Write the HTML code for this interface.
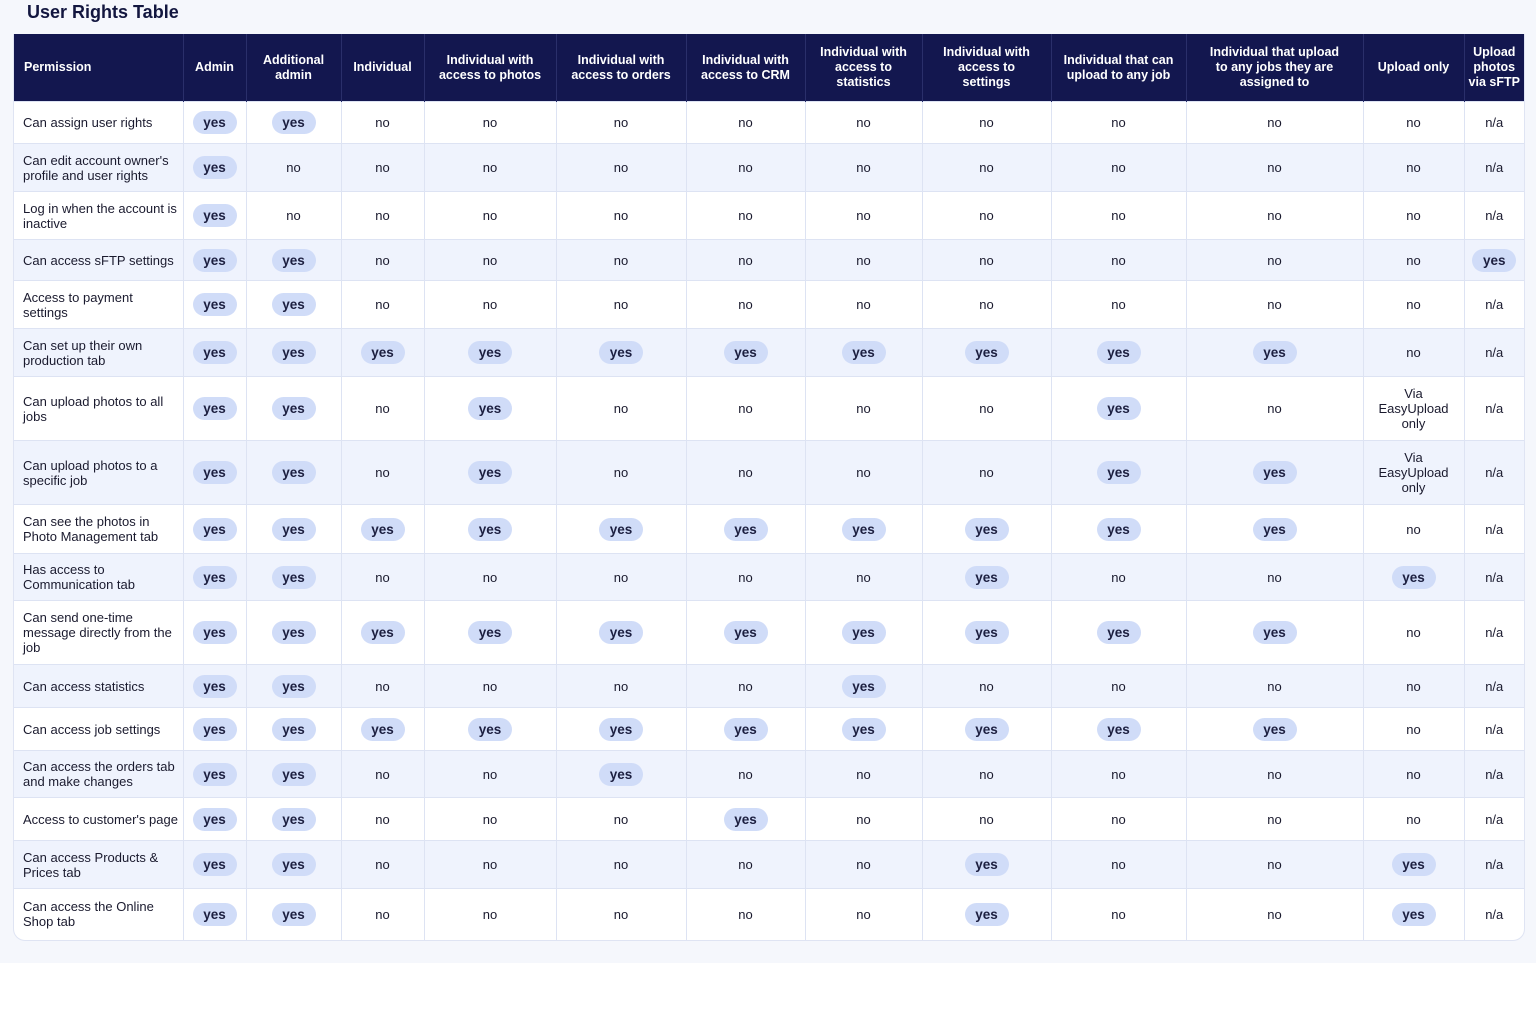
<!DOCTYPE html>
<html><head><meta charset="utf-8"><style>
html,body{margin:0;padding:0;width:1536px;height:1024px;background:#fff;overflow:hidden}
.bg{position:absolute;left:0;top:0;width:1536px;height:963px;background:#f5f7fc}
h1{position:absolute;left:27px;top:2px;margin:0;font:bold 18px "Liberation Sans",sans-serif;color:#12163f}
.wrap{position:absolute;left:13px;top:34px;width:1510px;border-radius:0 0 12px 12px;overflow:hidden;border:1px solid #dfe4f3;border-top:none;background:#fff}
table{border-collapse:collapse;table-layout:fixed;width:1510px;font:13px "Liberation Sans",sans-serif;color:#1a1a2e}
th{background:#13174f;color:#fff;font-weight:bold;font-size:12.5px;line-height:15px;height:67px;padding:0 10px;border-left:1px solid #2a2f6a}
th:first-child{text-align:left;padding-left:10px;border-left:none}
th:last-child{padding:0 2px}
td{text-align:center;border-left:1px solid #dde3f3;border-top:1px solid #dde3f3;padding:0 3px;line-height:15px}
td:first-child{text-align:left;padding-left:9px;border-left:none}
td.v{padding:0 14px}
tr:nth-child(even) td{background:#eff3fd}
b{display:inline-block;background:#d0dcf8;border-radius:12px;width:44px;height:23px;line-height:23px;font-weight:bold;font-size:13.5px;color:#1c1f40}
</style></head><body>
<div class="bg"></div>
<h1>User Rights Table</h1>
<div class="wrap"><table>
<colgroup><col style="width:169px"><col style="width:63px"><col style="width:95px"><col style="width:83px"><col style="width:132px"><col style="width:130px"><col style="width:119px"><col style="width:117px"><col style="width:129px"><col style="width:135px"><col style="width:177px"><col style="width:101px"><col style="width:60px"></colgroup>
<thead><tr><th>Permission</th><th>Admin</th><th>Additional admin</th><th>Individual</th><th>Individual with access to photos</th><th>Individual with access to orders</th><th>Individual with access to CRM</th><th>Individual with access to statistics</th><th>Individual with access to settings</th><th>Individual that can upload to any job</th><th style="padding:0 18px">Individual that upload to any jobs they are assigned to</th><th>Upload only</th><th>Upload photos via sFTP</th></tr></thead>
<tbody>
<tr style="height:42px"><td>Can assign user rights</td><td><b>yes</b></td><td><b>yes</b></td><td>no</td><td>no</td><td>no</td><td>no</td><td>no</td><td>no</td><td>no</td><td>no</td><td>no</td><td>n/a</td></tr>
<tr style="height:48px"><td>Can edit account owner's profile and user rights</td><td><b>yes</b></td><td>no</td><td>no</td><td>no</td><td>no</td><td>no</td><td>no</td><td>no</td><td>no</td><td>no</td><td>no</td><td>n/a</td></tr>
<tr style="height:48px"><td>Log in when the account is inactive</td><td><b>yes</b></td><td>no</td><td>no</td><td>no</td><td>no</td><td>no</td><td>no</td><td>no</td><td>no</td><td>no</td><td>no</td><td>n/a</td></tr>
<tr style="height:41px"><td>Can access sFTP settings</td><td><b>yes</b></td><td><b>yes</b></td><td>no</td><td>no</td><td>no</td><td>no</td><td>no</td><td>no</td><td>no</td><td>no</td><td>no</td><td><b>yes</b></td></tr>
<tr style="height:48px"><td>Access to payment settings</td><td><b>yes</b></td><td><b>yes</b></td><td>no</td><td>no</td><td>no</td><td>no</td><td>no</td><td>no</td><td>no</td><td>no</td><td>no</td><td>n/a</td></tr>
<tr style="height:48px"><td>Can set up their own production tab</td><td><b>yes</b></td><td><b>yes</b></td><td><b>yes</b></td><td><b>yes</b></td><td><b>yes</b></td><td><b>yes</b></td><td><b>yes</b></td><td><b>yes</b></td><td><b>yes</b></td><td><b>yes</b></td><td>no</td><td>n/a</td></tr>
<tr style="height:64px"><td>Can upload photos to all jobs</td><td><b>yes</b></td><td><b>yes</b></td><td>no</td><td><b>yes</b></td><td>no</td><td>no</td><td>no</td><td>no</td><td><b>yes</b></td><td>no</td><td class="v">Via EasyUpload only</td><td>n/a</td></tr>
<tr style="height:64px"><td>Can upload photos to a specific job</td><td><b>yes</b></td><td><b>yes</b></td><td>no</td><td><b>yes</b></td><td>no</td><td>no</td><td>no</td><td>no</td><td><b>yes</b></td><td><b>yes</b></td><td class="v">Via EasyUpload only</td><td>n/a</td></tr>
<tr style="height:49px"><td>Can see the photos in Photo Management tab</td><td><b>yes</b></td><td><b>yes</b></td><td><b>yes</b></td><td><b>yes</b></td><td><b>yes</b></td><td><b>yes</b></td><td><b>yes</b></td><td><b>yes</b></td><td><b>yes</b></td><td><b>yes</b></td><td>no</td><td>n/a</td></tr>
<tr style="height:47px"><td>Has access to Communication tab</td><td><b>yes</b></td><td><b>yes</b></td><td>no</td><td>no</td><td>no</td><td>no</td><td>no</td><td><b>yes</b></td><td>no</td><td>no</td><td><b>yes</b></td><td>n/a</td></tr>
<tr style="height:64px"><td>Can send one-time message directly from the job</td><td><b>yes</b></td><td><b>yes</b></td><td><b>yes</b></td><td><b>yes</b></td><td><b>yes</b></td><td><b>yes</b></td><td><b>yes</b></td><td><b>yes</b></td><td><b>yes</b></td><td><b>yes</b></td><td>no</td><td>n/a</td></tr>
<tr style="height:43px"><td>Can access statistics</td><td><b>yes</b></td><td><b>yes</b></td><td>no</td><td>no</td><td>no</td><td>no</td><td><b>yes</b></td><td>no</td><td>no</td><td>no</td><td>no</td><td>n/a</td></tr>
<tr style="height:43px"><td>Can access job settings</td><td><b>yes</b></td><td><b>yes</b></td><td><b>yes</b></td><td><b>yes</b></td><td><b>yes</b></td><td><b>yes</b></td><td><b>yes</b></td><td><b>yes</b></td><td><b>yes</b></td><td><b>yes</b></td><td>no</td><td>n/a</td></tr>
<tr style="height:47px"><td>Can access the orders tab and make changes</td><td><b>yes</b></td><td><b>yes</b></td><td>no</td><td>no</td><td><b>yes</b></td><td>no</td><td>no</td><td>no</td><td>no</td><td>no</td><td>no</td><td>n/a</td></tr>
<tr style="height:43px"><td>Access to customer's page</td><td><b>yes</b></td><td><b>yes</b></td><td>no</td><td>no</td><td>no</td><td><b>yes</b></td><td>no</td><td>no</td><td>no</td><td>no</td><td>no</td><td>n/a</td></tr>
<tr style="height:48px"><td>Can access Products &amp; Prices tab</td><td><b>yes</b></td><td><b>yes</b></td><td>no</td><td>no</td><td>no</td><td>no</td><td>no</td><td><b>yes</b></td><td>no</td><td>no</td><td><b>yes</b></td><td>n/a</td></tr>
<tr style="height:51px"><td>Can access the Online Shop tab</td><td><b>yes</b></td><td><b>yes</b></td><td>no</td><td>no</td><td>no</td><td>no</td><td>no</td><td><b>yes</b></td><td>no</td><td>no</td><td><b>yes</b></td><td>n/a</td></tr>
</tbody></table></div>
</body></html>
